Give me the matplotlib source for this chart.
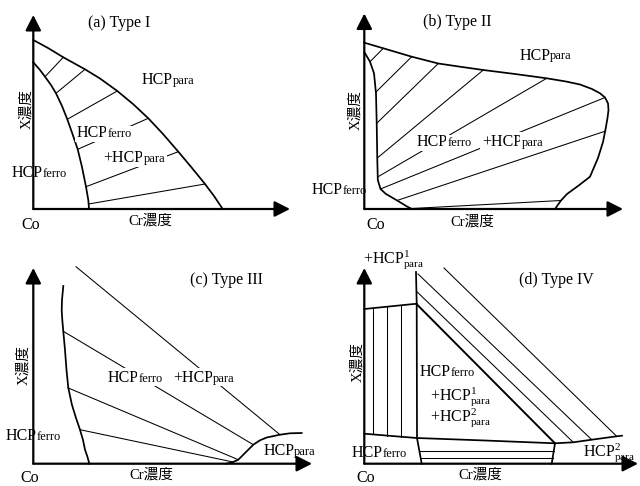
import matplotlib
matplotlib.use("Agg")
import matplotlib.pyplot as plt

plt.rcParams["font.family"] = ["Liberation Serif", "Noto Sans CJK JP"]
plt.rcParams["mathtext.fontset"] = "custom"
plt.rcParams["mathtext.rm"] = "Liberation Serif"
plt.rcParams["mathtext.it"] = "Liberation Serif:italic"

W, H = 640, 486
BIG, SMALL, AXIS_FS = 11.5, 9, 10.5

# canvas coordinates in px, y growing downwards
# axes: origin, x-arrow end, y-arrow end
PANEL_AXES = [
    ((33.3, 209), 290, 15),
    ((364.3, 209), 623, 13.5),
    ((33.3, 463.7), 312, 268),
    ((364.3, 463.7), 638, 268),
]

# (a) Type I
A_OUTER = [(33.3, 40), (48, 48), (63.3, 57.3), (85, 69.3), (100, 78.5), (117.3, 91),
           (133, 104), (148.3, 118.3), (163, 134), (178.3, 151.7), (192, 168),
           (205, 184), (214, 196), (222.7, 209)]
A_INNER = [(33.3, 62.3), (40, 70), (45, 76.7), (51, 85), (56, 93.3), (62, 106),
           (67.3, 119.3), (72.5, 134), (77.7, 149.3), (82, 167), (86, 186.7),
           (88.3, 200), (89, 209)]
A_TIES = [((45, 76.7), (63.3, 57.3)), ((56, 93.3), (85, 69.3)),
          ((67.3, 119.3), (117.3, 91)), ((77.7, 149.3), (148.3, 118.3)),
          ((86, 186.7), (178.3, 151.7)), ((88.6, 204), (205, 184))]

# (b) Type II
B_OUTER = [(364.3, 42.7), (383.3, 48.3), (411.7, 56.7), (438.3, 63.5), (460, 66.7),
           (483.3, 70), (515, 74), (546.7, 78.3), (566, 81.5), (580, 84.5), (592, 89),
           (600, 93.3), (605, 97.5), (608, 103.3), (608.5, 110), (607.5, 118),
           (606, 126.7), (603, 142), (598, 158), (590, 176.7), (578, 186),
           (567, 194), (561, 200.5), (555, 209)]
B_INNER = [(364.3, 52), (370, 61.7), (374, 73.3), (376, 93.3), (376.7, 123.3),
           (377.3, 160), (377.8, 180), (380.5, 189), (386, 194), (398, 201),
           (407, 206.5), (412, 209)]
B_TIES = [((370, 61.7), (383.3, 48.3)), ((376, 92), (411.7, 56.7)),
          ((376.7, 123.3), (438.3, 63.5)), ((377.3, 158), (483.3, 70)),
          ((377.6, 177), (546.7, 78.3)), ((380.5, 189), (605, 97.5)),
          ((397, 200.5), (605.7, 131)), ((412, 208.5), (561, 200.5))]

# (c) Type III
C_FERRO = [(63.3, 286), (62, 300), (61.7, 310), (62.3, 320), (63.3, 331.3), (65, 350),
           (66.5, 370), (68.3, 388), (72, 405), (76, 418), (80, 429.7), (83, 440),
           (85, 449.7), (87.5, 457), (89.3, 463.7)]
C_PARA = [(226, 463.7), (232, 462.5), (238.3, 459.7), (246, 452), (253.3, 444.7),
          (260, 440.3), (266.7, 437.5), (280, 434.7), (290, 433.3), (301.7, 433)]
C_TIES = [((76, 266.7), (280, 434.7)), ((63.3, 331.3), (253.3, 444.7)),
          ((68.3, 388), (238.3, 459.7)), ((80, 429.7), (233, 462))]

# (d) Type IV
D_TOP = [(364.3, 309), (416.7, 303.7)]
D_BOTTOM = [(364.3, 433.7), (386, 435.5), (416.7, 438), (485, 440.5), (555, 443.3),
            (573.3, 442.3), (591.7, 439.7), (616.7, 436.3), (622, 435.7)]
D_WALL_L = [(416, 272), (416.7, 304), (417, 438), (421.7, 463.7)]
D_WALL_R = [(555, 443.3), (551.7, 463.7)]
D_HYPOT = [(416.7, 304.2), (555, 443.3)]
D_VERT = [((373, 308.1), (373, 434.4)), ((387, 306.7), (387, 435.6)),
          ((401, 305.3), (401, 436.8))]
D_HORIZ = [((419.3, 450.5), (553.8, 450.5)), ((420.6, 457.5), (552.7, 457.5))]
D_DIAG = [((416.7, 291.5), (573.3, 442.3)), ((418, 274), (591.7, 439.7)),
          ((444, 268), (616.7, 436.3))]

TITLES = [("(a) Type I", 88, 26.7), ("(b) Type II", 423, 25.5),
          ("(c) Type III", 190, 283.7), ("(d) Type IV", 519, 283.7)]
CO_LABELS = [(21.7, 229), (366.7, 229), (20, 481.5), (356.7, 481.5)]
CR_LABELS = [(150, 225), (472.5, 226), (151.7, 479), (480, 479)]
X_LABELS = [(26.5, 109), (355.8, 110), (24, 364.7), (357.5, 362)]

# (main, suffix, x, baseline, boxed)
PHASE_LABELS = [
    ("HCP", "para", 142, 84, False),
    ("HCP", "ferro", 77, 136.5, True),
    ("+HCP", "para", 103.5, 161.7, True),
    ("HCP", "ferro", 11.7, 177, False),
    ("HCP", "para", 519.3, 59.5, False),
    ("HCP", "ferro", 416.7, 145.7, True),
    ("+HCP", "para", 481.7, 145.7, True),
    ("HCP", "ferro", 312, 194, False),
    ("HCP", "ferro", 107.3, 381.7, True),
    ("+HCP", "para", 173.3, 381.7, True),
    ("HCP", "ferro", 6, 440.3, False),
    ("HCP", "para", 263.3, 455, False),
    ("HCP", "ferro", 419.3, 376.3, False),
    ("HCP", "ferro", 351.7, 457, False),
]
MATH_LABELS = [
    (r"+HCP$^{1}_{\mathrm{para}}$", 363.3, 263),
    (r"+HCP$^{1}_{\mathrm{para}}$", 430, 399.7),
    (r"+HCP$^{2}_{\mathrm{para}}$", 430, 421.3),
    (r"HCP$^{2}_{\mathrm{para}}$", 583.3, 456),
]


def polyline(ax, pts, lw):
    xs, ys = zip(*pts)
    ax.plot(xs, ys, color="black", lw=lw, solid_joinstyle="round", zorder=2)


def segments(ax, segs, lw=0.75):
    for p, q in segs:
        polyline(ax, [p, q], lw)


def arrow_axes(ax, origin, xtip, ytip):
    style = dict(arrowstyle="-|>,head_length=0.55,head_width=0.28",
                 mutation_scale=17, lw=1.6, color="black",
                 shrinkA=0, shrinkB=0)
    ax.annotate("", xy=(xtip, origin[1]), xytext=origin, arrowprops=style)
    ax.annotate("", xy=(origin[0], ytip), xytext=origin, arrowprops=style)


def phase_label(ax, renderer, main, suffix, x, y, boxed):
    box = dict(facecolor="white", edgecolor="none", pad=1.2) if boxed else None
    t = ax.text(x, y, main, fontsize=BIG, va="baseline", ha="left",
                bbox=box, zorder=4)
    w = t.get_window_extent(renderer).width
    ax.text(x + w, y, suffix, fontsize=SMALL, va="baseline", ha="left",
            bbox=box, zorder=4)


fig = plt.figure(figsize=(W / 100, H / 100), dpi=100)
ax = fig.add_axes([0, 0, 1, 1])
ax.set_xlim(0, W)
ax.set_ylim(H, 0)
ax.axis("off")
renderer = fig.canvas.get_renderer()

for origin, xtip, ytip in PANEL_AXES:
    arrow_axes(ax, origin, xtip, ytip)

# boundaries
for curve in [A_OUTER, A_INNER, B_OUTER, B_INNER, C_FERRO, C_PARA,
              D_TOP, D_BOTTOM, D_WALL_L, D_WALL_R]:
    polyline(ax, curve, 1.25)
polyline(ax, D_HYPOT, 1.4)

# tie lines
for ties in [A_TIES, B_TIES, C_TIES, D_VERT, D_HORIZ, D_DIAG]:
    segments(ax, ties)

for text, x, y in TITLES:
    ax.text(x, y, text, fontsize=BIG, va="baseline", ha="left")
for x, y in CO_LABELS:
    ax.text(x, y, "Co", fontsize=BIG, va="baseline", ha="left")
for x, y in CR_LABELS:
    ax.text(x, y, "Cr濃度", fontsize=AXIS_FS, va="baseline", ha="center")
for x, y in X_LABELS:
    ax.text(x, y, "X濃度", fontsize=AXIS_FS, va="center", ha="center",
            rotation=90)

for main, suffix, x, y, boxed in PHASE_LABELS:
    phase_label(ax, renderer, main, suffix, x, y, boxed)
for text, x, y in MATH_LABELS:
    ax.text(x, y, text, fontsize=BIG, va="baseline", ha="left")

fig.savefig("out.png", dpi=100)
